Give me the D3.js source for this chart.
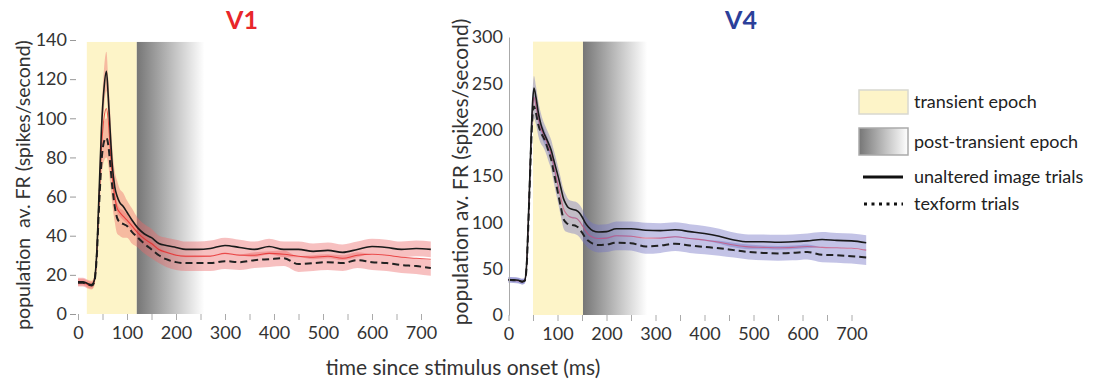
<!DOCTYPE html>
<html>
<head>
<meta charset="utf-8">
<script src="https://cdn.jsdelivr.net/npm/d3@7"></script>
<style>
  body { margin: 0; background: #fff; }
  svg { font-family: Lato, "Open Sans", sans-serif; }
</style>
</head>
<body>
<svg id="chart" width="1118" height="381"></svg>
<script>
// ---- data ----
const xTickValues = [0, 50, 100, 150, 200, 250, 300, 350, 400, 450, 500, 550, 600, 650, 700];
const v1YTicks = [0, 20, 40, 60, 80, 100, 120, 140];
const v4YTicks = [0, 50, 100, 150, 200, 250, 300];

// V1 population average firing rate (spikes/s)
const v1Time = [0, 10, 20, 28, 33, 38, 43, 48, 53, 58, 62, 66, 70, 75, 80, 85, 92, 100, 110, 122, 135, 150, 165, 180, 200, 220, 245, 270, 300, 330, 360, 390, 420, 450, 480, 510, 540, 570, 600, 630, 660, 690, 720];
const v1Unaltered = [16.5, 16.5, 15.5, 15, 17, 30, 62, 95, 115, 124, 110, 92, 76, 65, 60, 57, 55, 52, 48, 44, 41, 39, 36, 35, 34, 33, 33, 33.5, 35, 34, 33, 34.5, 33, 33, 32, 32.5, 31.5, 33, 34.5, 34, 33, 33.5, 33];
const v1Texform = [16, 16, 15, 14.5, 16, 28, 55, 78, 88, 90, 86, 76, 65, 55, 49, 47, 46, 45, 42, 39, 36, 33, 30, 28, 26.5, 26, 26, 26, 27, 26.5, 27.5, 28, 28.5, 25.5, 26, 26.5, 26, 27.5, 26.5, 26, 25, 24.5, 23.5];
const v1Other = [16, 16, 15, 14.5, 16.5, 29, 58, 85, 100, 105, 98, 84, 70, 60, 54, 52, 50, 48, 45, 41.5, 38.5, 36, 33, 31.5, 30, 29.5, 29.5, 29.5, 31, 30, 30, 31, 30.5, 29.5, 29, 29.5, 28.5, 30, 30.5, 30, 29, 28.5, 28];
const v1Err = [2, 2, 2, 2, 2, 4, 6, 8, 10, 10, 10, 10, 9, 8, 8, 7, 7, 6, 6, 5, 5, 4.5, 4, 4, 4, 4, 4, 4, 4, 4, 4, 4, 4, 4, 4, 4, 4, 4, 4, 4, 4, 4, 4];
const v1Transient = [18, 120];
const v1Post = [120, 258];

// V4 population average firing rate (spikes/s)
const v4Time = [0, 10, 20, 28, 33, 37, 40, 43, 46, 49, 52, 56, 61, 66, 71, 76, 81, 87, 92, 97, 102, 107, 112, 117, 122, 130, 138, 145, 150, 156, 163, 172, 184, 200, 220, 250, 280, 310, 340, 370, 400, 430, 460, 490, 520, 550, 580, 610, 640, 670, 700, 730];
const v4Unaltered = [38, 38, 37.5, 36, 37, 55, 95, 140, 190, 228, 245, 235, 218, 206, 198, 192, 186, 178, 168, 158, 148, 137, 126, 120, 116, 114, 113, 110, 106, 100, 95, 91, 89.5, 90, 93, 93, 91.5, 91, 92, 90, 88, 85, 81, 79, 79, 78.5, 79, 80, 81.5, 80.5, 80, 78];
const v4Texform = [38, 37.5, 37, 36, 37, 52, 90, 135, 180, 215, 225, 218, 205, 197, 192, 186, 178, 168, 155, 142, 129, 116, 104, 100, 98, 97, 96, 93, 89, 84, 80, 77, 75.5, 76, 78, 77.5, 74, 75, 77, 75, 73.5, 72, 70, 68, 67, 66.5, 67, 68, 65, 64.5, 63.5, 62];
const v4Other = [38, 37.5, 37, 36, 37, 53, 92, 138, 185, 220, 235, 226, 212, 201, 195, 189, 182, 173, 162, 150, 138, 126, 115, 110, 107, 105, 104.5, 101, 97, 92, 87, 84, 82.5, 83, 85.5, 85, 83, 83, 84.5, 82.5, 81, 78.5, 75.5, 73.5, 73, 72.5, 73, 74, 73, 72.5, 72, 70];
const v4Err = [3, 3, 3, 3, 3, 5, 8, 10, 12, 13, 13, 12, 12, 12, 11, 11, 11, 11, 11, 11, 10, 10, 10, 10, 9, 9, 9, 9, 9, 8, 8, 8, 8, 8, 8, 8, 8, 8, 8, 8, 8, 8, 8, 8, 8, 8, 8, 8, 8, 8, 8, 8];
const v4Transient = [50, 152];
const v4Post = [152, 283];

const svg = d3.select("#chart");

// gradient for post-transient epoch
const defs = svg.append("defs");
const grad = defs.append("linearGradient").attr("id", "postGrad");
grad.append("stop").attr("offset", "0%").attr("stop-color", "#767676");
grad.append("stop").attr("offset", "55%").attr("stop-color", "#c2c2c2");
grad.append("stop").attr("offset", "100%").attr("stop-color", "#ffffff");

function drawPanel(p) {
    const x = d3.scaleLinear().domain([0, 700]).range(p.xRange);
    const y = d3.scaleLinear().domain(p.yDomain).range(p.yRange);
    const g = svg.append("g");

    // epochs
    g.append("rect")
        .attr("x", x(p.transient[0]))
        .attr("width", x(p.transient[1]) - x(p.transient[0]))
        .attr("y", y(p.epochTop))
        .attr("height", y(0) - y(p.epochTop))
        .attr("fill", "#fdf4c8");
    g.append("rect")
        .attr("x", x(p.post[0]))
        .attr("width", x(p.post[1]) - x(p.post[0]))
        .attr("y", y(p.epochTop))
        .attr("height", y(0) - y(p.epochTop))
        .attr("fill", "url(#postGrad)");

    const area = vals => d3.area()
        .x((d, i) => x(p.time[i]))
        .y0((d, i) => y(vals[i] - p.err[i]))
        .y1((d, i) => y(vals[i] + p.err[i]))
        .curve(d3.curveMonotoneX);

    const line = vals => d3.line()
        .x((d, i) => x(p.time[i]))
        .y((d, i) => y(vals[i]))
        .curve(d3.curveMonotoneX);

    [p.texform, p.unaltered].forEach(vals => {
        g.append("path")
            .datum(vals)
            .attr("d", area(vals))
            .attr("fill", p.band)
            .attr("fill-opacity", 0.42);
    });

    // thin coloured trace inside the bands
    g.append("path")
        .datum(p.other)
        .attr("d", line(p.other))
        .attr("fill", "none")
        .attr("stroke", p.otherColor)
        .attr("stroke-width", 1.1)
        .attr("stroke-opacity", 0.75);

    g.append("path")
        .datum(p.texform)
        .attr("d", line(p.texform))
        .attr("fill", "none")
        .attr("stroke", "#222")
        .attr("stroke-width", 2)
        .attr("stroke-dasharray", "7,4");

    g.append("path")
        .datum(p.unaltered)
        .attr("d", line(p.unaltered))
        .attr("fill", "none")
        .attr("stroke", "#1a1a1a")
        .attr("stroke-width", 1.6);

    // axes
    const yAxis = g.append("g")
        .attr("transform", "translate(" + p.yAxisX + ",0)")
        .call(d3.axisLeft(y).tickValues(p.yTicks).tickSizeInner(p.yTickSize).tickSizeOuter(0).tickPadding(p.yPad));
    yAxis.selectAll("line").attr("stroke", "#999");
    yAxis.select(".domain").attr("stroke", "#aaa").attr("display", p.showDomain ? null : "none");
    yAxis.selectAll("text").attr("font-size", 18).attr("fill", "#333").attr("font-family", "Lato");

    const xAxis = g.append("g")
        .attr("transform", "translate(0," + y(0) + ")")
        .call(d3.axisBottom(x).tickValues(xTickValues).tickSize(6).tickPadding(6)
            .tickFormat(d => d % 100 === 0 ? d : ""));
    xAxis.select(".domain").remove();
    xAxis.selectAll("line").attr("stroke", "#aaa");
    xAxis.selectAll("text").attr("font-size", 18).attr("fill", "#333").attr("font-family", "Lato");

    // y label
    g.append("text")
        .attr("transform", "translate(" + p.labelPos[0] + "," + p.labelPos[1] + ") rotate(-90)")
        .attr("text-anchor", "middle")
        .attr("font-size", p.labelSize)
        .attr("fill", "#333")
        .style("white-space", "pre")
        .text(p.yLabel);

    // title
    g.append("text")
        .attr("x", p.titleX)
        .attr("y", 29)
        .attr("text-anchor", "middle")
        .attr("font-size", 25)
        .attr("font-weight", "bold")
        .attr("fill", p.titleColor)
        .text(p.title);
}

drawPanel({
    title: "V1", titleColor: "#e8262b", titleX: 242,
    time: v1Time, unaltered: v1Unaltered, texform: v1Texform, other: v1Other, err: v1Err,
    transient: v1Transient, post: v1Post, epochTop: 139,
    xRange: [78, 421], yDomain: [0, 140], yRange: [314, 40], yTicks: v1YTicks,
    yAxisX: 76, yTickSize: 6, yPad: 3, showDomain: false,
    band: "#ec6a6a", otherColor: "#e52222",
    yLabel: "population  av. FR (spikes/second)", labelPos: [30, 185], labelSize: 19.5
});

drawPanel({
    title: "V4", titleColor: "#2b3f9a", titleX: 741,
    time: v4Time, unaltered: v4Unaltered, texform: v4Texform, other: v4Other, err: v4Err,
    transient: v4Transient, post: v4Post, epochTop: 295,
    xRange: [508.5, 851.5], yDomain: [0, 300], yRange: [315, 37], yTicks: v4YTicks,
    yAxisX: 509, yTickSize: 0, yPad: 6, showDomain: true,
    band: "#6f6fc4", otherColor: "#c8507a",
    yLabel: "population av. FR (spikes/second)", labelPos: [468, 172], labelSize: 21
});

svg.append("text")
    .attr("x", 463)
    .attr("y", 375)
    .attr("text-anchor", "middle")
    .attr("font-size", 21)
    .attr("fill", "#333")
    .text("time since stimulus onset (ms)");

// legend
const legend = svg.append("g").attr("font-size", 18).attr("fill", "#222");
legend.append("rect").attr("x", 859).attr("y", 90).attr("width", 49).attr("height", 24)
    .attr("fill", "#fdf4c8").attr("stroke", "#d8d8d0").attr("stroke-width", 1.5);
legend.append("text").attr("x", 914).attr("y", 108).text("transient epoch");
legend.append("rect").attr("x", 859).attr("y", 128).attr("width", 49).attr("height", 27)
    .attr("fill", "url(#postGrad)").attr("stroke", "#aaa").attr("stroke-width", 1.5);
legend.append("text").attr("x", 914).attr("y", 148).text("post-transient epoch");
legend.append("line").attr("x1", 863).attr("x2", 903).attr("y1", 177).attr("y2", 177)
    .attr("stroke", "#111").attr("stroke-width", 3);
legend.append("text").attr("x", 914).attr("y", 183).text("unaltered image trials");
legend.append("line").attr("x1", 864).attr("x2", 903).attr("y1", 204).attr("y2", 204)
    .attr("stroke", "#111").attr("stroke-width", 3).attr("stroke-dasharray", "3,4.5");
legend.append("text").attr("x", 914).attr("y", 210).text("texform trials");
</script>
</body>
</html>
